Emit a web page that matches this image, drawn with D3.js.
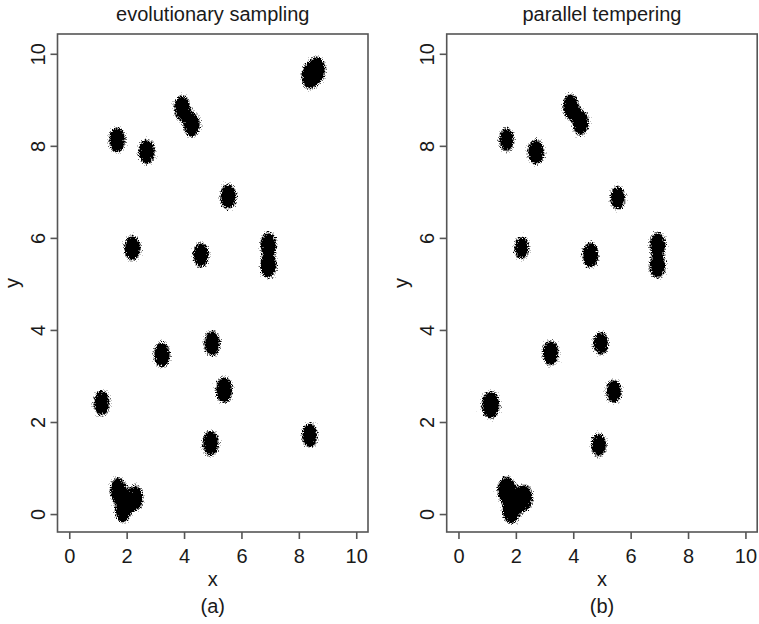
<!DOCTYPE html>
<html>
<head>
<meta charset="utf-8">
<script src="https://cdn.jsdelivr.net/npm/d3@7"></script>
<style>
  body { margin: 0; background: #fff; }
  text { font-family: "Liberation Sans", Arial, sans-serif; fill: #1a1a1a; }
</style>
</head>
<body>
<svg id="chart" width="759" height="624"></svg>
<script>
// cluster centres (data units), plus rough half-spread of each cloud
var esX = [8.40, 8.62, 3.93, 4.27, 1.67, 2.70, 5.54, 2.20, 4.59, 6.94, 6.94, 3.23, 4.98, 5.40, 1.13, 4.93, 8.38, 1.70, 1.87, 2.29];
var esY = [9.52, 9.65, 8.82, 8.46, 8.13, 7.87, 6.90, 5.78, 5.63, 5.85, 5.40, 3.46, 3.71, 2.70, 2.41, 1.54, 1.71, 0.52, 0.09, 0.35];
var esR = [0.32, 0.32, 0.30, 0.30, 0.30, 0.30, 0.30, 0.30, 0.29, 0.30, 0.30, 0.30, 0.30, 0.31, 0.30, 0.30, 0.29, 0.30, 0.30, 0.30];

var ptX = [3.92, 4.26, 1.68, 2.70, 5.55, 2.20, 4.60, 6.94, 6.94, 3.21, 4.96, 5.41, 1.12, 4.89, 1.68, 1.84, 2.28];
var ptY = [8.85, 8.50, 8.13, 7.87, 6.87, 5.78, 5.63, 5.85, 5.40, 3.50, 3.71, 2.66, 2.37, 1.50, 0.52, 0.09, 0.35];
var ptR = [0.30, 0.30, 0.28, 0.30, 0.28, 0.27, 0.30, 0.30, 0.30, 0.30, 0.28, 0.28, 0.33, 0.28, 0.33, 0.33, 0.32];

var tickVals = [0, 2, 4, 6, 8, 10];
var titles = ["evolutionary sampling", "parallel tempering"];
var tags = ["(a)", "(b)"];

var svg = d3.select("#chart");

// grainy edge filter so the blobs look like dense point clouds
var defs = svg.append("defs");
var f = defs.append("filter")
    .attr("id", "grain")
    .attr("filterUnits", "userSpaceOnUse")
    .attr("x", 0).attr("y", 0).attr("width", 759).attr("height", 624)
    .attr("color-interpolation-filters", "sRGB");
f.append("feGaussianBlur").attr("in", "SourceGraphic").attr("stdDeviation", 3.2).attr("result", "soft");
f.append("feGaussianBlur").attr("in", "SourceGraphic").attr("stdDeviation", 5).attr("result", "haloRaw");
var hc = f.append("feComponentTransfer").attr("in", "haloRaw").attr("result", "halo");
hc.append("feFuncA").attr("type", "linear").attr("slope", 4).attr("intercept", 0);
f.append("feTurbulence").attr("type", "fractalNoise").attr("baseFrequency", 0.8)
    .attr("numOctaves", 2).attr("seed", 7).attr("result", "noise");
f.append("feColorMatrix").attr("in", "noise").attr("type", "matrix")
    .attr("values", "0 0 0 0 0  0 0 0 0 0  0 0 0 0 0  1 0 0 0 0").attr("result", "na");
f.append("feComposite").attr("in", "soft").attr("in2", "na").attr("operator", "arithmetic")
    .attr("k1", 0).attr("k2", 2.2).attr("k3", -2).attr("k4", 0.35).attr("result", "diff");
f.append("feColorMatrix").attr("in", "diff").attr("type", "matrix")
    .attr("values", "0 0 0 0 0  0 0 0 0 0  0 0 0 0 0  0 0 0 1 0").attr("result", "blk");
var ct = f.append("feComponentTransfer").attr("in", "blk").attr("result", "dots");
ct.append("feFuncA").attr("type", "discrete").attr("tableValues", "0 0.25 0.6 1 1");
f.append("feComposite").attr("in", "dots").attr("in2", "halo").attr("operator", "in");

var panels = [
  { left: 57.5, right: 368, xs: esX, ys: esY, rs: esR },
  { left: 446.7, right: 757.2, xs: ptX, ys: ptY, rs: ptR }
];
var plotTop = 34, plotBottom = 532;

panels.forEach(function(p, k) {
  var x = d3.scaleLinear().domain([-0.41, 10.41]).range([p.left, p.right]);
  var y = d3.scaleLinear().domain([-0.39, 10.43]).range([plotBottom, plotTop]);
  var cx = (p.left + p.right) / 2;

  var clouds = svg.append("g").attr("filter", "url(#grain)");
  clouds.selectAll("ellipse")
    .data(p.xs)
    .enter()
    .append("ellipse")
    .attr("cx", function(d) { return x(d); })
    .attr("cy", function(d, i) { return y(p.ys[i]); })
    .attr("rx", function(d, i) { return 0.95 * (x(p.rs[i]) - x(0)); })
    .attr("ry", function(d, i) { return 0.95 * (y(0) - y(p.rs[i])); })
    .attr("fill", "black");

  // box
  svg.append("rect")
    .attr("x", p.left).attr("y", plotTop)
    .attr("width", p.right - p.left).attr("height", plotBottom - plotTop)
    .attr("fill", "none").attr("stroke", "#555").attr("stroke-width", 1.6);

  var xa = svg.append("g")
    .attr("transform", "translate(0," + plotBottom + ")")
    .call(d3.axisBottom(x).tickValues(tickVals).tickSize(7).tickPadding(4));
  xa.select(".domain").remove();
  xa.selectAll("line").attr("stroke", "#555").attr("stroke-width", 1.6);
  xa.selectAll("text").attr("font-size", 20).attr("font-family", null).attr("fill", null)
    .attr("y", 31).attr("dy", 0);

  var ya = svg.append("g")
    .attr("transform", "translate(" + p.left + ",0)")
    .call(d3.axisLeft(y).tickValues(tickVals).tickSize(7));
  ya.select(".domain").remove();
  ya.selectAll("line").attr("stroke", "#555").attr("stroke-width", 1.6);
  ya.selectAll("text").attr("font-size", 20).attr("font-family", null).attr("fill", null)
    .attr("x", 0).attr("y", -13).attr("dy", 0)
    .attr("text-anchor", "middle")
    .attr("transform", "rotate(-90)");

  svg.append("text")
    .attr("x", cx).attr("y", 21)
    .attr("text-anchor", "middle").attr("font-size", 20)
    .text(titles[k]);

  svg.append("text")
    .attr("x", cx).attr("y", 586)
    .attr("text-anchor", "middle").attr("font-size", 20)
    .text("x");

  svg.append("text")
    .attr("transform", "translate(" + (p.left - 39) + "," + ((plotTop + plotBottom) / 2) + ") rotate(-90)")
    .attr("text-anchor", "middle").attr("font-size", 20)
    .text("y");

  svg.append("text")
    .attr("x", cx).attr("y", 613)
    .attr("text-anchor", "middle").attr("font-size", 20)
    .text(tags[k]);
});
</script>
</body>
</html>
